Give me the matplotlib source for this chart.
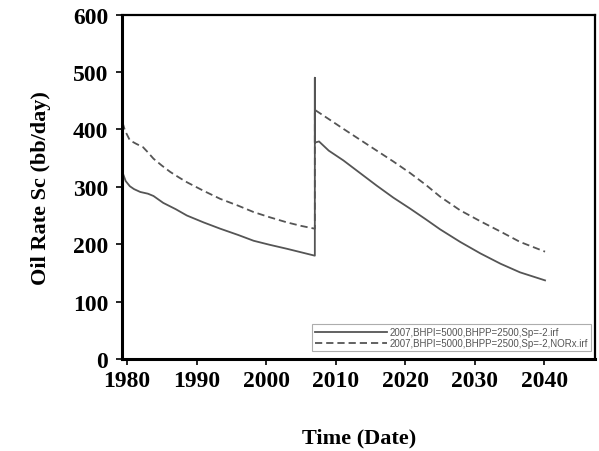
import matplotlib.pyplot as plt

# Base case: rate before and after the 2007 restart (the spike is the restart itself)
years_base = [1979.35, 1979.8, 1980.4, 1981.0, 1981.9, 1983.0, 1983.8, 1984.5, 1985.2, 1987.0,
              1988.6, 1991.0, 1993.4, 1996.0, 1998.2, 2000.5, 2003.0, 2005.0, 2007.0,
              2007.0, 2007.0, 2007.6, 2009.0, 2011.1, 2013.5, 2015.9, 2018.3, 2020.7,
              2023.0, 2025.0, 2027.9, 2030.8, 2033.7, 2036.5, 2040.1]
rate_base = [325, 310, 301, 296, 291, 288, 284, 278, 272, 261,
             250, 238, 227, 216, 206, 199, 192, 186, 180,
             490, 377, 379, 363, 346, 324, 302, 281, 262,
             243, 226, 204, 184, 166, 151, 137]

# NORx case
years_norx = [1979.35, 1979.7, 1980.4, 1981.3, 1982.3, 1983.0, 1983.8, 1985.0, 1986.2, 1987.5,
              1988.6, 1991.0, 1993.4, 1996.0, 1998.2, 2000.5, 2003.0, 2005.0, 2007.0,
              2007.0, 2009.0, 2011.1, 2013.5, 2015.9, 2018.3, 2020.7, 2023.0, 2025.0,
              2027.9, 2030.8, 2033.7, 2036.5, 2040.1]
rate_norx = [412, 398, 381, 375, 369, 360, 349, 337, 326, 316,
             308, 293, 279, 267, 256, 247, 238, 232, 227,
             434, 418, 401, 382, 363, 344, 324, 303, 283,
             259, 240, 222, 204, 187]

labels = ["2007,BHPI=5000,BHPP=2500,Sp=-2.irf",
          "2007,BHPI=5000,BHPP=2500,Sp=-2,NORx.irf"]

fig = plt.figure(figsize=(5.99, 4.52), dpi=100)
ax = fig.add_axes([0.204, 0.2035, 0.7895, 0.762])

ax.plot(years_norx, rate_norx, color="#555555", lw=1.3, dashes=(4, 2.2), label=labels[1])
ax.plot(years_base, rate_base, color="#555555", lw=1.3, label=labels[0])

ax.set_xlim(1979.3, 2047.3)
ax.set_ylim(0, 600)
ax.set_xticks(range(1980, 2041, 10))
ax.set_yticks(range(0, 601, 100))

tick_font = dict(family="Liberation Serif", weight="bold", size=17)
ax.set_xticklabels([str(t) for t in range(1980, 2041, 10)], fontdict=tick_font)
ax.set_yticklabels([str(t) for t in range(0, 601, 100)], fontdict=tick_font)
ax.tick_params(direction="out", length=4, width=1.2, pad=4, top=False, right=False)
ax.tick_params(axis="y", pad=6)

for side in ["left", "bottom"]:
    ax.spines[side].set_linewidth(2.2)
for side in ["top", "right"]:
    ax.spines[side].set_linewidth(1.6)

ax.set_xlabel("Time (Date)", family="Liberation Serif", weight="bold", size=16, labelpad=26)
ax.set_ylabel("Oil Rate Sc (bb/day)", family="Liberation Serif", weight="bold", size=16, labelpad=16)

# solid entry first in the legend
handles, texts = ax.get_legend_handles_labels()
leg = ax.legend(handles[::-1], texts[::-1], loc="lower right", bbox_to_anchor=(0.9915, 0.023),
                prop=dict(family="Liberation Sans", size=7), frameon=True, fancybox=False,
                handlelength=7.4, handletextpad=0.3, borderpad=0.3, labelspacing=0.1, borderaxespad=0)
leg.get_frame().set_edgecolor("#999999")
leg.get_frame().set_linewidth(0.8)
for t in leg.get_texts():
    t.set_color("#555555")

fig.savefig("out.png", dpi=100)
